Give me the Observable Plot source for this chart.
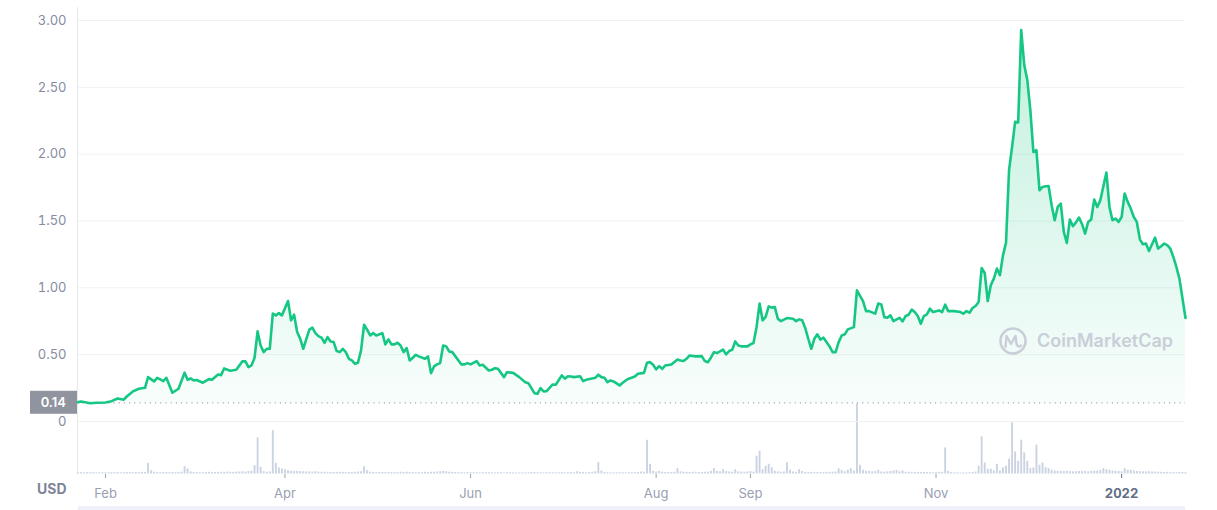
<!DOCTYPE html>
<html><head><meta charset="utf-8">
<script src="https://cdn.jsdelivr.net/npm/d3@7"></script>
<script src="https://cdn.jsdelivr.net/npm/@observablehq/plot@0.6"></script>
<style>
html,body{margin:0;padding:0;background:#fff;}
#chart{position:relative;width:1217px;height:510px;font-family:Inter,"Open Sans",sans-serif;}
#chart svg{position:absolute;left:0;top:0;}
#nav{position:absolute;left:78px;top:506px;width:1107px;height:4px;background:#eef1fa;}
</style></head><body><div id="chart"><div id="nav"></div></div>
<script>
const priceDates = [
"2021-01-23","2021-01-24","2021-01-27","2021-01-29","2021-02-01","2021-02-03","2021-02-05","2021-02-07","2021-02-08","2021-02-10",
"2021-02-12","2021-02-14","2021-02-15","2021-02-17","2021-02-18","2021-02-19","2021-02-20","2021-02-21","2021-02-23","2021-02-25",
"2021-02-27","2021-02-28","2021-03-01","2021-03-02","2021-03-03","2021-03-05","2021-03-07","2021-03-08","2021-03-10","2021-03-11",
"2021-03-12","2021-03-14","2021-03-16","2021-03-18","2021-03-19","2021-03-20","2021-03-21","2021-03-22","2021-03-23","2021-03-24",
"2021-03-25","2021-03-26","2021-03-27","2021-03-28","2021-03-29","2021-03-30","2021-03-31","2021-04-02","2021-04-03","2021-04-04",
"2021-04-05","2021-04-06","2021-04-07","2021-04-09","2021-04-10","2021-04-11","2021-04-12","2021-04-13","2021-04-14","2021-04-15",
"2021-04-16","2021-04-17","2021-04-18","2021-04-19","2021-04-20","2021-04-21","2021-04-22","2021-04-23","2021-04-24","2021-04-25",
"2021-04-26","2021-04-27","2021-04-28","2021-04-29","2021-04-30","2021-05-01","2021-05-03","2021-05-04","2021-05-05","2021-05-06",
"2021-05-07","2021-05-08","2021-05-09","2021-05-10","2021-05-11","2021-05-12","2021-05-13","2021-05-14","2021-05-15","2021-05-17",
"2021-05-18","2021-05-19","2021-05-20","2021-05-21","2021-05-22","2021-05-23","2021-05-24","2021-05-25","2021-05-26","2021-05-29",
"2021-05-30","2021-05-31","2021-06-01","2021-06-03","2021-06-04","2021-06-05","2021-06-07","2021-06-08","2021-06-09","2021-06-10",
"2021-06-12","2021-06-13","2021-06-15","2021-06-17","2021-06-19","2021-06-20","2021-06-22","2021-06-23","2021-06-24","2021-06-25",
"2021-06-26","2021-06-28","2021-06-29","2021-07-01","2021-07-02","2021-07-03","2021-07-04","2021-07-05","2021-07-07","2021-07-08",
"2021-07-09","2021-07-12","2021-07-13","2021-07-14","2021-07-15","2021-07-16","2021-07-17","2021-07-18","2021-07-20","2021-07-21",
"2021-07-22","2021-07-23","2021-07-25","2021-07-26","2021-07-28","2021-07-29","2021-07-30","2021-07-31","2021-08-01","2021-08-02",
"2021-08-03","2021-08-04","2021-08-06","2021-08-08","2021-08-09","2021-08-10","2021-08-11","2021-08-12","2021-08-14","2021-08-16",
"2021-08-17","2021-08-18","2021-08-19","2021-08-20","2021-08-21","2021-08-22","2021-08-23","2021-08-24","2021-08-25","2021-08-26",
"2021-08-27","2021-08-28","2021-08-29","2021-08-31","2021-09-01","2021-09-02","2021-09-03","2021-09-04","2021-09-05","2021-09-06",
"2021-09-07","2021-09-08","2021-09-09","2021-09-10","2021-09-11","2021-09-13","2021-09-15","2021-09-16","2021-09-17","2021-09-18",
"2021-09-19","2021-09-20","2021-09-21","2021-09-22","2021-09-23","2021-09-24","2021-09-25","2021-09-26","2021-09-27","2021-09-28",
"2021-09-29","2021-09-30","2021-10-01","2021-10-02","2021-10-03","2021-10-05","2021-10-06","2021-10-08","2021-10-09","2021-10-10",
"2021-10-12","2021-10-13","2021-10-14","2021-10-15","2021-10-16","2021-10-17","2021-10-18","2021-10-20","2021-10-21","2021-10-22",
"2021-10-23","2021-10-24","2021-10-25","2021-10-26","2021-10-27","2021-10-28","2021-10-29","2021-10-30","2021-10-31","2021-11-02",
"2021-11-03","2021-11-04","2021-11-05","2021-11-07","2021-11-09","2021-11-10","2021-11-11","2021-11-12","2021-11-13","2021-11-14",
"2021-11-15","2021-11-16","2021-11-17","2021-11-18","2021-11-19","2021-11-20","2021-11-21","2021-11-22","2021-11-23","2021-11-24",
"2021-11-25","2021-11-26","2021-11-27","2021-11-28","2021-11-29","2021-11-30","2021-12-01","2021-12-02","2021-12-03","2021-12-04",
"2021-12-05","2021-12-06","2021-12-07","2021-12-08","2021-12-09","2021-12-10","2021-12-11","2021-12-12","2021-12-13","2021-12-14",
"2021-12-15","2021-12-16","2021-12-17","2021-12-18","2021-12-19","2021-12-20","2021-12-21","2021-12-22","2021-12-23","2021-12-24",
"2021-12-25","2021-12-26","2021-12-27","2021-12-28","2021-12-29","2021-12-30","2021-12-31","2022-01-01","2022-01-02","2022-01-03",
"2022-01-04","2022-01-05","2022-01-06","2022-01-07","2022-01-08","2022-01-09","2022-01-10","2022-01-11","2022-01-12","2022-01-13",
"2022-01-14","2022-01-15","2022-01-16","2022-01-17","2022-01-18","2022-01-19","2022-01-20","2022-01-22"
];
const priceValues = [
0.145,0.150,0.137,0.140,0.142,0.152,0.172,0.163,0.187,0.225,
0.245,0.252,0.332,0.300,0.327,0.315,0.302,0.327,0.215,0.245,
0.365,0.312,0.322,0.307,0.310,0.290,0.317,0.312,0.352,0.347,
0.397,0.380,0.387,0.450,0.450,0.407,0.420,0.477,0.674,0.569,
0.519,0.544,0.544,0.807,0.794,0.811,0.794,0.901,0.757,0.799,
0.669,0.620,0.544,0.687,0.702,0.661,0.639,0.627,0.589,0.631,
0.599,0.594,0.527,0.519,0.544,0.519,0.469,0.457,0.432,0.440,
0.532,0.724,0.687,0.644,0.661,0.644,0.661,0.577,0.614,0.577,
0.577,0.589,0.569,0.519,0.549,0.457,0.477,0.499,0.487,0.469,
0.487,0.362,0.412,0.427,0.437,0.569,0.562,0.524,0.519,0.427,
0.427,0.437,0.427,0.452,0.419,0.424,0.382,0.387,0.399,0.394,
0.332,0.369,0.364,0.332,0.294,0.287,0.212,0.207,0.249,0.225,
0.227,0.277,0.275,0.345,0.320,0.339,0.337,0.332,0.339,0.302,
0.312,0.327,0.350,0.332,0.327,0.294,0.307,0.300,0.270,0.290,
0.307,0.320,0.337,0.357,0.364,0.440,0.444,0.424,0.390,0.414,
0.394,0.419,0.427,0.464,0.457,0.452,0.469,0.494,0.487,0.489,
0.452,0.444,0.477,0.519,0.512,0.524,0.537,0.502,0.527,0.537,
0.599,0.569,0.562,0.562,0.577,0.587,0.706,0.882,0.757,0.782,
0.861,0.852,0.857,0.769,0.751,0.774,0.769,0.751,0.764,0.757,
0.700,0.619,0.544,0.619,0.652,0.612,0.627,0.594,0.562,0.519,
0.519,0.594,0.644,0.652,0.689,0.706,0.981,0.901,0.826,0.826,
0.807,0.882,0.876,0.781,0.776,0.794,0.751,0.776,0.749,0.789,
0.799,0.837,0.819,0.789,0.732,0.789,0.801,0.844,0.819,0.831,
0.819,0.874,0.826,0.826,0.819,0.807,0.826,0.814,0.849,0.864,
0.894,1.148,1.111,0.901,1.019,1.069,1.144,1.094,1.243,1.336,
1.880,2.055,2.242,2.237,2.929,2.667,2.554,2.330,2.017,2.030,
1.730,1.755,1.760,1.762,1.618,1.506,1.605,1.630,1.418,1.336,
1.511,1.461,1.490,1.526,1.476,1.406,1.493,1.511,1.661,1.605,
1.655,1.760,1.863,1.605,1.506,1.518,1.493,1.530,1.706,1.643,
1.593,1.530,1.493,1.363,1.326,1.331,1.276,1.326,1.376,1.294,
1.311,1.331,1.320,1.294,1.231,1.156,1.069,0.774
];
const volumeStart = "2021-01-23";
const volumeValues = [
14,15,13,14,12,13,12,11,12,13, 12,14,13,15,12,13,16,14,13,15,
14,17,16,107,33,18,14,13,15,14, 13,15,14,16,18,73,50,20,15,14,
13,14,15,17,16,14,15,18,16,19, 17,16,18,20,22,19,24,27,83,360,
67,23,18,20,433,107,60,50,43,33, 28,25,27,24,22,21,20,19,22,18,
17,16,18,15,14,16,17,15,14,16, 15,17,19,22,73,33,18,15,14,16,
15,14,16,15,13,14,17,15,18,16, 14,13,15,14,16,15,18,17,20,23,
25,22,18,16,15,14,13,12,14,13, 12,13,11,12,14,13,12,11,13,12,
11,12,13,12,11,10,12,11,13,14, 15,13,12,11,12,13,12,11,13,14,
12,13,14,12,23,16,14,13,15,18, 22,113,30,15,13,12,11,12,13,12,
11,12,13,14,15,20,18,337,97,27, 20,25,18,15,16,14,17,53,22,18,
16,15,17,18,16,15,17,19,28,53, 25,22,43,24,20,18,43,22,19,18,
20,25,18,177,227,43,77,97,63,27, 22,18,20,113,37,20,18,43,25,17,
15,17,14,16,15,14,17,16,18,20, 53,37,22,37,53,30,697,87,37,27,
25,22,24,37,20,18,22,25,30,37, 22,30,18,17,16,15,17,14,16,15,
14,13,15,16,17,260,27,14,12,11, 10,11,12,13,14,20,77,370,110,47,
47,30,97,30,63,77,147,510,220,127, 337,210,127,53,60,287,87,110,63,53,
37,30,28,26,25,27,24,22,23,25, 24,26,22,25,28,30,35,53,43,37,
30,27,25,22,53,37,37,30,25,23, 22,20,23,21,19,18,17,15,16,14,
13,14,15,16,14
];
const baselinePrice = 0.14;
const yTicks = [0, 0.5, 1, 1.5, 2, 2.5, 3];
const monthTicks = ["2021-02-01","2021-04-01","2021-06-01","2021-08-01","2021-09-01","2021-11-01"];
const yearTicks = ["2022-01-01"];
const currencyLabel = "USD";
const watermark = "CoinMarketCap";

const price = priceDates.map((d, i) => ({date: new Date(d), value: priceValues[i]}));
const volume = volumeValues.map((v, i) => ({date: d3.utcDay.offset(new Date(volumeStart), i), value: v}));

const W = 1217, H = 510;
const xScale = {type: "utc", domain: [new Date("2021-01-23"), new Date("2022-01-22")], range: [77.6, 1185]};
const common = {width: W, height: H, marginLeft: 77, marginRight: 32, marginTop: 7, marginBottom: 36};
const GREEN = "#16c784";

const volPlot = Plot.plot({
  ...common,
  style: {background: "transparent"},
  x: {...xScale, axis: null},
  y: {domain: [0, d3.max(volumeValues)], range: [473.5, 403.5], axis: null},
  marks: [
    Plot.ruleX(volume, {x: "date", y1: 0, y2: "value", stroke: "#cbd3e2", strokeWidth: 1.9})
  ]
});

const defsMark = (index, scales) => {
  const defs = d3.create("svg:defs");
  const g = defs.append("linearGradient").attr("id", "pg")
    .attr("gradientUnits", "userSpaceOnUse")
    .attr("x1", 0).attr("x2", 0)
    .attr("y1", scales.y(3)).attr("y2", scales.y(baselinePrice));
  g.append("stop").attr("offset", 0).attr("stop-color", GREEN).attr("stop-opacity", 0.27);
  g.append("stop").attr("offset", 1).attr("stop-color", GREEN).attr("stop-opacity", 0.03);
  return defs.node();
};

const baseLabelMark = (index, scales, values, dims) => {
  const y = scales.y(baselinePrice);
  const g = d3.create("svg:g");
  g.append("rect").attr("x", 30).attr("y", y - 11.5).attr("width", dims.marginLeft - 30).attr("height", 23)
    .attr("fill", "#8f949f");
  g.append("text").attr("x", 66).attr("y", y).attr("dy", "0.35em").attr("text-anchor", "end")
    .attr("fill", "#fff").attr("font-size", 13).attr("font-weight", 600).text(baselinePrice.toFixed(2));
  return g.node();
};

const watermarkMark = () => {
  const g = d3.create("svg:g");
  g.append("circle").attr("cx", 1013).attr("cy", 341).attr("r", 12.5)
    .attr("fill", "none").attr("stroke", "#c9ced8").attr("stroke-width", 2.6);
  g.append("path").attr("d", "M1005.5,347 L1006.5,336 L1011,344 L1015.5,336 L1016.5,344 Q1018,348 1021,345.5")
    .attr("fill", "none").attr("stroke", "#c9ced8").attr("stroke-width", 2.4)
    .attr("stroke-linejoin", "round").attr("stroke-linecap", "round");
  g.append("text").attr("x", 1037).attr("y", 341).attr("dy", "0.35em").attr("text-anchor", "start")
    .attr("fill", "#c9ced8").attr("font-size", 18).attr("font-weight", 600).text(watermark);
  return g.node();
};

const pricePlot = Plot.plot({
  ...common,
  style: {background: "transparent", fontFamily: "Inter, 'Open Sans', sans-serif", fontSize: "13px"},
  x: {...xScale, label: null},
  y: {domain: [0, 3], range: [421, 20], label: null},
  marks: [
    defsMark,
    Plot.ruleY(yTicks, {stroke: "#eff2f5", strokeWidth: 1}),
    Plot.frame({anchor: "left", stroke: "#e6e9ee"}),
    Plot.areaY(price, {x: "date", y1: baselinePrice, y2: "value", fill: "url(#pg)"}),
    Plot.ruleY([baselinePrice], {stroke: "#a3a8b3", strokeWidth: 1.2, strokeDasharray: "1.2,4"}),
    watermarkMark,
    Plot.lineY(price, {x: "date", y: "value", stroke: GREEN, strokeWidth: 2.6, strokeLinejoin: "round"}),
    Plot.axisY(yTicks, {tickSize: 0, tickPadding: 11, color: "#858ca2", fontSize: 13, label: null,
      tickFormat: d => d === 0 ? "0" : d.toFixed(2)}),
    Plot.axisX(monthTicks.map(d => new Date(d)), {tickSize: 4, tickPadding: 10, color: "#99a0b1", fontSize: 13,
      label: null, tickFormat: d3.utcFormat("%b")}),
    Plot.axisX(yearTicks.map(d => new Date(d)), {tickSize: 4, tickPadding: 10, color: "#616e85", fontSize: 13,
      fontWeight: 700, label: null, tickFormat: d3.utcFormat("%Y")}),
    Plot.text([currencyLabel], {frameAnchor: "bottom-left", dx: -11, dy: 10, textAnchor: "end",
      fill: "#7d8598", fontWeight: 700, fontSize: 14, lineAnchor: "top"}),
    baseLabelMark
  ]
});

const chart = document.getElementById("chart");
chart.appendChild(volPlot);
chart.appendChild(pricePlot);
</script></body></html>
